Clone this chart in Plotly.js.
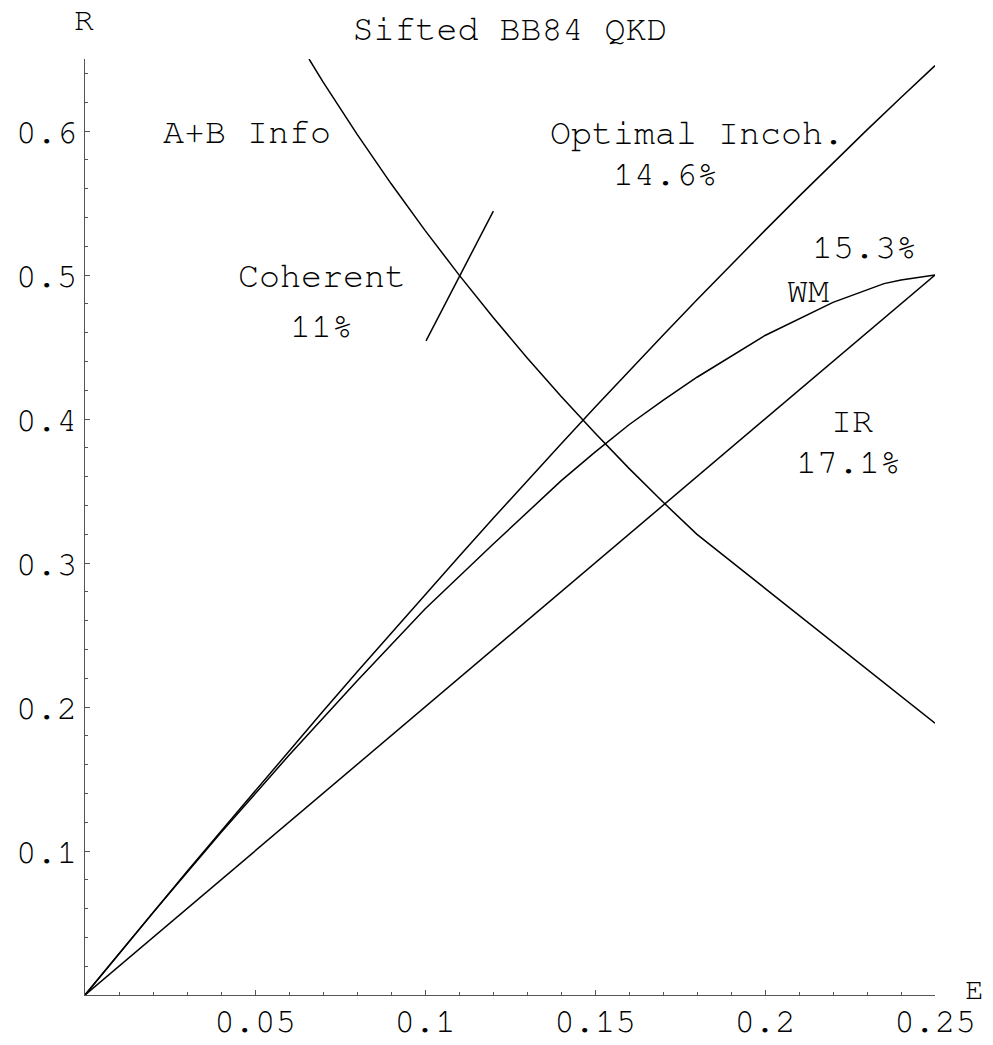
<!DOCTYPE html>
<html>
<head>
<meta charset="utf-8">
<script src="https://cdn.plot.ly/plotly-3.0.1.min.js"></script>
<style>html,body{margin:0;padding:0;background:#fff;}#chart{width:993px;height:1045px;}</style>
</head>
<body>
<div id="chart"></div>
<script>
// A+B mutual information curve
const E_AB = [0.0659, 0.07, 0.08, 0.09, 0.10, 0.11, 0.12, 0.13, 0.14, 0.15, 0.16, 0.17, 0.18, 0.25];
const R_AB = [0.650, 0.6341, 0.5978, 0.5635, 0.5310, 0.5001, 0.4706, 0.4426, 0.4158, 0.3902, 0.3657, 0.3423, 0.3199, 0.1887];
// Optimal incoherent attack
const E_OPT = [0, 0.005, 0.01, 0.02, 0.03, 0.04, 0.05, 0.06, 0.07, 0.08, 0.09, 0.10, 0.11, 0.12, 0.13, 0.14, 0.15, 0.16, 0.17, 0.18, 0.19, 0.20, 0.21, 0.22, 0.23, 0.24, 0.25];
const R_OPT = [0, 0.0144, 0.0288, 0.0573, 0.0857, 0.1138, 0.1418, 0.1695, 0.1970, 0.2243, 0.2513, 0.2781, 0.3046, 0.3309, 0.3569, 0.3827, 0.4081, 0.4333, 0.4582, 0.4828, 0.5071, 0.5310, 0.5546, 0.5779, 0.6008, 0.6233, 0.6454];
// WM curve
const E_WM = [0, 0.01, 0.02, 0.04, 0.06, 0.08, 0.10, 0.12, 0.14, 0.15, 0.16, 0.17, 0.18, 0.20, 0.22, 0.235, 0.24, 0.25];
const R_WM = [0, 0.0287, 0.0572, 0.1128, 0.1665, 0.2180, 0.2680, 0.3130, 0.3570, 0.3770, 0.3960, 0.4130, 0.4290, 0.4580, 0.4810, 0.4940, 0.4965, 0.5000];
// Intercept-resend line
const E_IR = [0, 0.25];
const R_IR = [0, 0.5];
// Coherent attack segment
const E_COH = [0.1003, 0.1201];
const R_COH = [0.4542, 0.5444];

const X_TICKS = [0.05, 0.1, 0.15, 0.2, 0.25];
const X_TICKTEXT = ['0.05', '0.1', '0.15', '0.2', '0.25'];
const Y_TICKS = [0.1, 0.2, 0.3, 0.4, 0.5, 0.6];
const Y_TICKTEXT = ['0.1', '0.2', '0.3', '0.4', '0.5', '0.6'];

const LABELS = [
  {text: 'A+B Info', x: 0.0475, y: 0.5993},
  {text: 'Optimal Incoh.', x: 0.180, y: 0.5980},
  {text: '14.6%', x: 0.1706, y: 0.5700},
  {text: '15.3%', x: 0.2293, y: 0.5190},
  {text: 'WM', x: 0.2126, y: 0.4885},
  {text: 'Coherent', x: 0.0697, y: 0.4990},
  {text: '11%', x: 0.0697, y: 0.4643},
  {text: 'IR', x: 0.2256, y: 0.3983},
  {text: '17.1%', x: 0.2246, y: 0.3698}
];

const FONT = '"Nimbus Mono PS", "Nimbus Mono L", FreeMono, Courier, "Liberation Mono", monospace';
const line = {color: '#000', width: 1.5};
const traces = [
  {x: E_AB, y: R_AB, mode: 'lines', line: line},
  {x: E_OPT, y: R_OPT, mode: 'lines', line: line},
  {x: E_WM, y: R_WM, mode: 'lines', line: line},
  {x: E_IR, y: R_IR, mode: 'lines', line: line},
  {x: E_COH, y: R_COH, mode: 'lines', line: line}
];

const annotations = LABELS.map(l => ({
  text: l.text, x: l.x, y: l.y, xref: 'x', yref: 'y', showarrow: false,
  xanchor: 'center', yanchor: 'middle', font: {family: FONT, size: 35, color: '#000'}
}));
annotations.push({text: 'R', xref: 'paper', yref: 'paper', x: -0.0006, y: 1.0406, showarrow: false,
  xanchor: 'center', yanchor: 'middle', font: {family: FONT, size: 33, color: '#000'}});
annotations.push({text: 'E', xref: 'paper', yref: 'paper', x: 1.0470, y: 0.006, showarrow: false,
  xanchor: 'center', yanchor: 'middle', font: {family: FONT, size: 31, color: '#000'}});

const layout = {
  width: 993, height: 1045,
  margin: {l: 85, r: 58, t: 59, b: 50, pad: 0},
  paper_bgcolor: '#fff', plot_bgcolor: '#fff',
  showlegend: false,
  title: {text: 'Sifted BB84 QKD', x: 510/993, xanchor: 'center', xref: 'container',
          y: 1 - 28/1045, yanchor: 'middle', yref: 'container',
          font: {family: FONT, size: 35, color: '#000'}},
  xaxis: {range: [0, 0.25], showgrid: false, zeroline: false, showline: true, linecolor: '#555', linewidth: 1,
          ticks: 'inside', ticklen: 5, tickcolor: '#555', tickvals: X_TICKS, ticktext: X_TICKTEXT,
          ticklabelstandoff: -5,
          minor: {dtick: 0.01, tick0: 0, ticks: 'inside', ticklen: 3, tickcolor: '#555'},
          tickfont: {family: FONT, size: 34, color: '#000'}, fixedrange: true},
  yaxis: {range: [0, 0.65], showgrid: false, zeroline: false, showline: true, linecolor: '#555', linewidth: 1,
          ticks: 'inside', ticklen: 5, tickcolor: '#555', tickvals: Y_TICKS, ticktext: Y_TICKTEXT,
          minor: {dtick: 0.02, tick0: 0, ticks: 'inside', ticklen: 3, tickcolor: '#555'},
          tickfont: {family: FONT, size: 34, color: '#000'}, fixedrange: true},
  annotations: annotations
};

Plotly.newPlot('chart', traces, layout, {displayModeBar: false, staticPlot: true});
</script>
</body>
</html>
